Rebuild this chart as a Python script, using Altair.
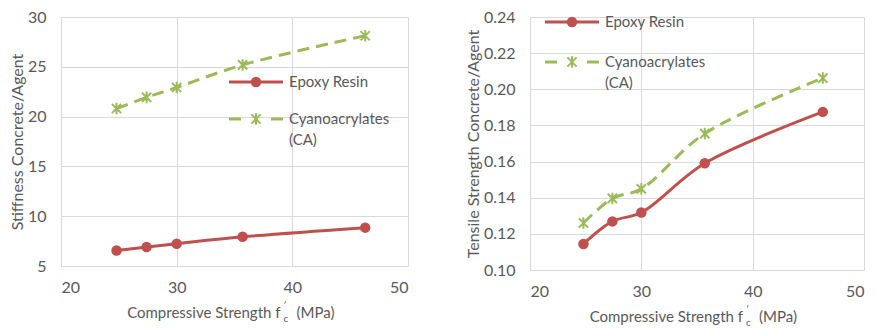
import altair as alt
import pandas as pd

# ---- data ----
fc = [24.8, 27.4, 30.0, 35.7, 46.3]
stiff_epoxy = [6.55, 6.91, 7.24, 7.93, 8.85]
stiff_ca = [20.81, 21.93, 22.92, 25.19, 28.12]
tens_epoxy = [0.1144, 0.1269, 0.1318, 0.1591, 0.1875]
tens_ca = [0.1260, 0.1396, 0.1449, 0.1755, 0.2062]
series = ["Epoxy Resin", "Cyanoacrylates (CA)"]
x_ticks = [20, 30, 40, 50]
stiff_ticks = [5, 10, 15, 20, 25, 30]
tens_ticks = [0.10, 0.12, 0.14, 0.16, 0.18, 0.20, 0.22, 0.24]

RED = "#C0504D"
GREEN = "#9BBB59"
TXT = "#595959"
GRID = "#D9D9D9"
FONT = "Lato"
LAB = 16   # tick label font size
LEG = 15   # legend font size
YT = 16    # y title font size
XT = 15    # x title font size
STAR = "M-1,-1L1,1M-1,1L1,-1M0,-1.25L0,1.25"

one = alt.Data(values=[{"a": 1}])


def panel(ep, ca, yticks, yfmt, ytitle, w, h, leg):
    df = pd.DataFrame({
        "fc": fc + fc,
        "v": ep + ca,
        "s": [series[0]] * len(fc) + [series[1]] * len(fc),
    })
    x = alt.X("fc:Q", scale=alt.Scale(domain=[x_ticks[0], x_ticks[-1]], nice=False),
              axis=alt.Axis(values=x_ticks, title=None, labelPadding=13))
    y = alt.Y("v:Q", scale=alt.Scale(domain=[yticks[0], yticks[-1]], nice=False, zero=False),
              axis=alt.Axis(values=yticks, format=yfmt, title=ytitle, labelPadding=15, titlePadding=2))
    base = alt.Chart(df).encode(x=x, y=y)
    ep_df = base.transform_filter(alt.datum.s == series[0])
    ca_df = base.transform_filter(alt.datum.s == series[1])
    layers = [
        ep_df.mark_line(color=RED, strokeWidth=3, interpolate="catmull-rom"),
        ca_df.mark_line(color=GREEN, strokeWidth=3, strokeDash=[12, 7], interpolate="catmull-rom"),
        ep_df.mark_point(color=RED, filled=True, opacity=1, size=110, shape="circle"),
        ca_df.mark_point(color=GREEN, filled=False, opacity=1, size=85, shape=STAR, strokeWidth=2),
    ]
    lx, ly1, ly2 = leg
    # legend: Epoxy
    layers.append(alt.Chart(one).mark_rule(color=RED, strokeWidth=3).encode(
        x=alt.value(lx), x2=alt.value(lx + 54), y=alt.value(ly1)))
    layers.append(alt.Chart(one).mark_point(color=RED, filled=True, opacity=1, size=110, shape="circle").encode(
        x=alt.value(lx + 27), y=alt.value(ly1)))
    layers.append(alt.Chart(one).mark_text(text=series[0], align="left", baseline="middle", font=FONT,
                                           fontSize=LEG, color=TXT).encode(x=alt.value(lx + 60), y=alt.value(ly1)))
    # legend: CA
    layers.append(alt.Chart(one).mark_rule(color=GREEN, strokeWidth=3).encode(
        x=alt.value(lx), x2=alt.value(lx + 12), y=alt.value(ly2)))
    layers.append(alt.Chart(one).mark_rule(color=GREEN, strokeWidth=3).encode(
        x=alt.value(lx + 42), x2=alt.value(lx + 54), y=alt.value(ly2)))
    layers.append(alt.Chart(one).mark_point(color=GREEN, filled=False, opacity=1, size=85, shape=STAR,
                                            strokeWidth=2).encode(x=alt.value(lx + 27), y=alt.value(ly2)))
    layers.append(alt.Chart(one).mark_text(text="Cyanoacrylates", align="left", baseline="middle", font=FONT,
                                           fontSize=LEG, color=TXT).encode(x=alt.value(lx + 60), y=alt.value(ly2)))
    layers.append(alt.Chart(one).mark_text(text="(CA)", align="left", baseline="middle", font=FONT,
                                           fontSize=LEG, color=TXT).encode(x=alt.value(lx + 60), y=alt.value(ly2 + 21)))
    # x axis title with f'c
    cx = w / 2
    ty = h + 47
    layers.append(alt.Chart(one).mark_text(text="Compressive Strength f", align="right", baseline="middle",
                                           font=FONT, fontSize=XT, color=TXT).encode(
        x=alt.value(cx + 46), y=alt.value(ty)))
    layers.append(alt.Chart(one).mark_text(text="\u2032", align="left", baseline="middle",
                                           font=FONT, fontSize=9, color=TXT).encode(
        x=alt.value(cx + 49), y=alt.value(ty - 7)))
    layers.append(alt.Chart(one).mark_text(text="c", align="left", baseline="middle",
                                           font=FONT, fontSize=10, color=TXT).encode(
        x=alt.value(cx + 49), y=alt.value(ty + 6)))
    layers.append(alt.Chart(one).mark_text(text="(MPa)", align="left", baseline="middle",
                                           font=FONT, fontSize=XT, color=TXT).encode(
        x=alt.value(cx + 62), y=alt.value(ty)))
    return alt.layer(*layers).properties(width=w, height=h)


left = panel(stiff_epoxy, stiff_ca, stiff_ticks, "d", "Stiffness Concrete/Agent", 347, 249, (168, 65, 102))
right = panel(tens_epoxy, tens_ca, tens_ticks, ".2f", "Tensile Strength Concrete/Agent", 334, 253, (15, 5, 45))

chart = alt.hconcat(left, right, spacing=55).properties(
    padding={"left": 0, "top": 0, "right": 0, "bottom": 0},
    background="white",
).configure_view(stroke=GRID, strokeWidth=1).configure_axis(
    grid=True, gridColor=GRID, gridWidth=1, domain=False, ticks=False,
    labelColor=TXT, labelFont=FONT, labelFontSize=LAB,
    titleColor=TXT, titleFont=FONT, titleFontSize=YT, titleFontWeight="normal"
)

chart.save("out.html", embed_options={"renderer": "svg", "actions": False})
